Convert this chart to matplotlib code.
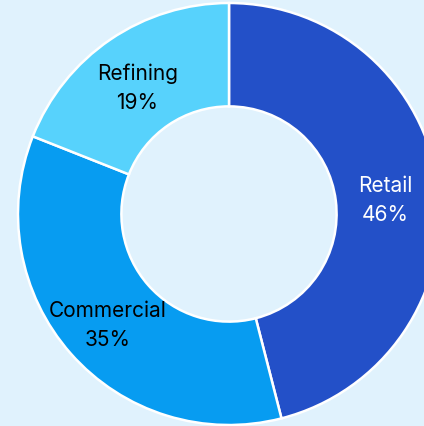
import matplotlib
matplotlib.use("Agg")
import matplotlib.pyplot as plt

segments = ["Retail", "Commercial", "Refining"]
shares = [46, 35, 19]
colors = ["#2350c8", "#079cf1", "#57d2fc"]
label_colors = ["white", "black", "black"]

bg = "#e0f2fd"
plt.rcParams['font.family'] = ['Inter', 'DejaVu Sans']

fig = plt.figure(figsize=(4.24, 4.26), dpi=100)
fig.patch.set_facecolor(bg)
ax = fig.add_axes([0, 0, 1, 1])
ax.set_facecolor(bg)

# pie centre at pixel (229, 214), outer radius ~211px
R = 211.0
cx, cy = 229.0, 214.0

wedges, texts = ax.pie(shares, colors=colors, startangle=90, counterclock=False,
                       radius=1.0, wedgeprops=dict(width=0.49, edgecolor='white', linewidth=1.8),
                       labels=[f"{s}\n{v}%" for s, v in zip(segments, shares)],
                       labeldistance=0.755, frame=True)
for t, c in zip(texts, label_colors):
    t.set_color(c)
    t.set_fontsize(15)
    t.set_ha('center')
    t.set_va('center')
    t.set_linespacing(1.55)
    x, y = t.get_position()
    t.set_position((x - 0.01, y - 0.03))

ax.set_aspect('auto')
ax.set_xlim(-cx / R, (424 - cx) / R)
ax.set_ylim(-(426 - cy) / R, cy / R)
ax.axis('off')

fig.savefig("out.png", dpi=100, facecolor=bg)
